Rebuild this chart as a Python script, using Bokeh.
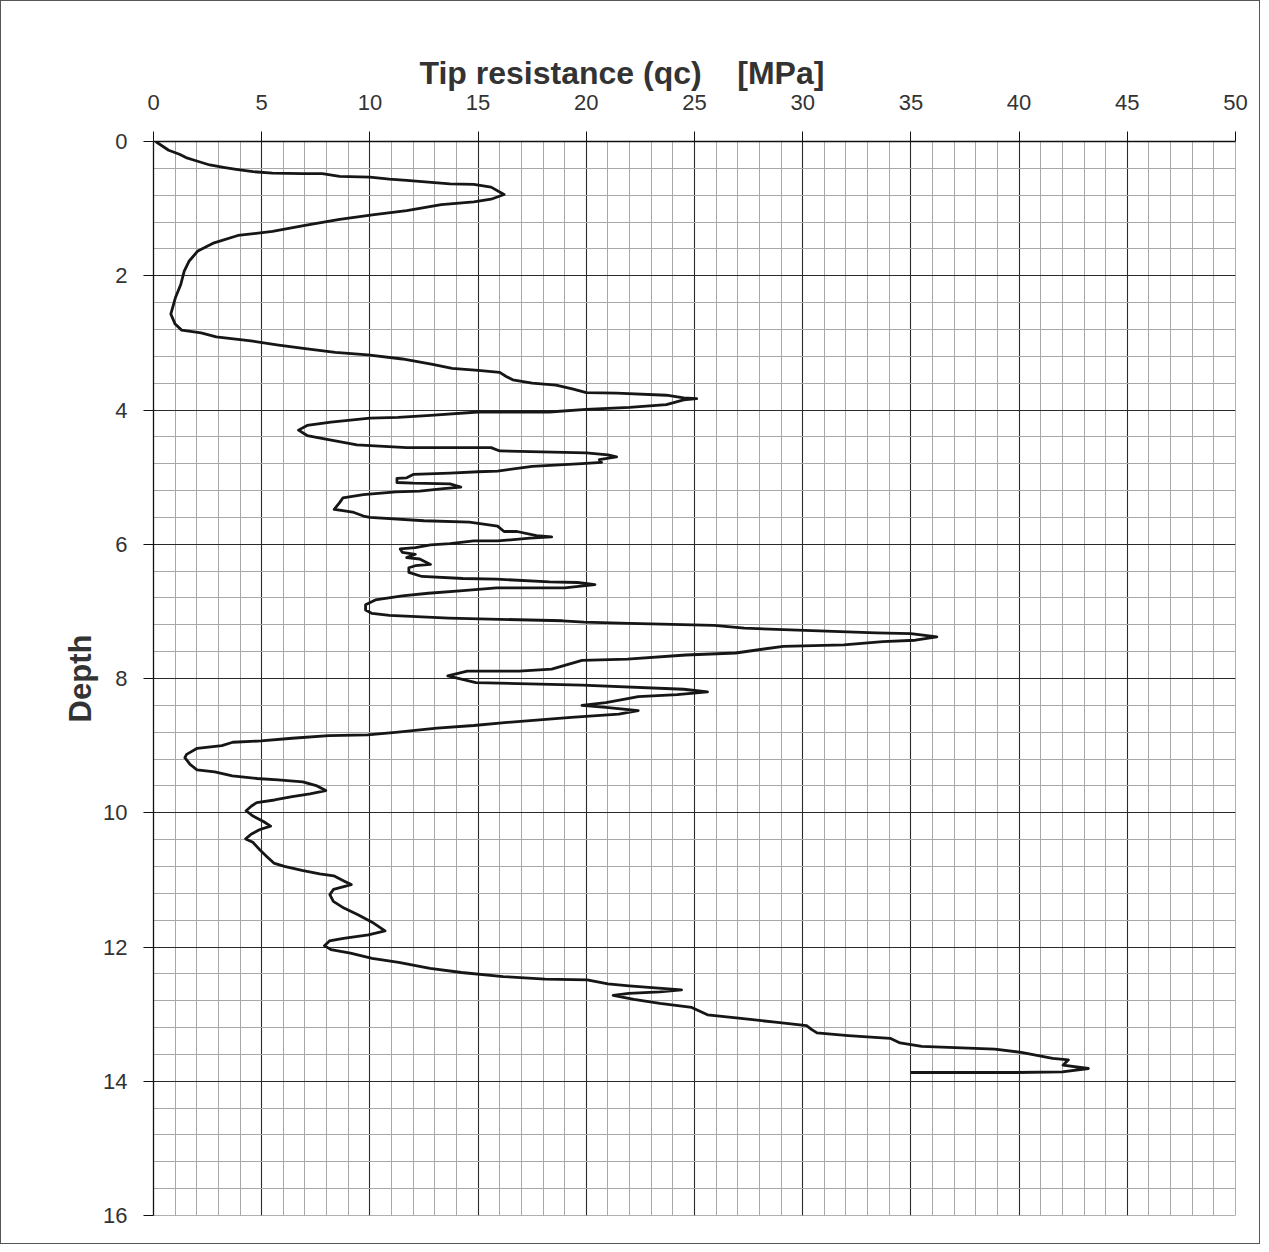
from bokeh.plotting import figure
from bokeh.models import SingleIntervalTicker, Title
from bokeh.embed import file_html
from bokeh.resources import INLINE

depth = [0.00, 0.13, 0.19, 0.24, 0.29, 0.35, 0.39, 0.42, 0.45, 0.47, 0.48, 0.48, 0.52, 0.53, 0.56, 0.58,
         0.63, 0.64, 0.68, 0.79, 0.86, 0.90, 0.94, 1.03, 1.09, 1.16, 1.25, 1.34, 1.40, 1.51, 1.63, 1.78,
         1.93, 2.13, 2.32, 2.57, 2.72, 2.81, 2.85, 2.91, 2.97, 3.03, 3.09, 3.14, 3.18, 3.24, 3.32, 3.38,
         3.41, 3.44, 3.50, 3.55, 3.60, 3.63, 3.69, 3.74, 3.75, 3.78, 3.82, 3.83, 3.85, 3.92, 3.96, 3.99,
         4.03, 4.03, 4.08, 4.11, 4.12, 4.18, 4.23, 4.30, 4.38, 4.43, 4.52, 4.56, 4.56, 4.61, 4.64, 4.67,
         4.70, 4.74, 4.78, 4.80, 4.84, 4.91, 4.92, 4.94, 4.96, 5.01, 5.02, 5.08, 5.09, 5.10, 5.15, 5.17,
         5.21, 5.22, 5.26, 5.31, 5.38, 5.48, 5.50, 5.52, 5.58, 5.60, 5.65, 5.67, 5.73, 5.81, 5.81, 5.87,
         5.89, 5.91, 5.95, 5.95, 5.99, 6.01, 6.05, 6.07, 6.12, 6.15, 6.20, 6.22, 6.30, 6.32, 6.35, 6.42,
         6.48, 6.51, 6.52, 6.56, 6.57, 6.60, 6.65, 6.65, 6.65, 6.69, 6.73, 6.77, 6.83, 6.90, 6.98, 7.03,
         7.06, 7.10, 7.14, 7.16, 7.18, 7.21, 7.25, 7.32, 7.33, 7.38, 7.43, 7.45, 7.50, 7.52, 7.62, 7.65,
         7.71, 7.73, 7.86, 7.89, 7.89, 7.96, 8.06, 8.10, 8.16, 8.20, 8.24, 8.27, 8.32, 8.36, 8.40, 8.43,
         8.48, 8.53, 8.58, 8.62, 8.66, 8.70, 8.74, 8.80, 8.84, 8.85, 8.89, 8.93, 8.95, 9.00, 9.04, 9.13,
         9.18, 9.28, 9.36, 9.39, 9.45, 9.49, 9.51, 9.54, 9.60, 9.67, 9.72, 9.76, 9.81, 9.85, 9.90, 9.97,
         10.05, 10.13, 10.20, 10.25, 10.32, 10.39, 10.44, 10.55, 10.65, 10.75, 10.80, 10.86, 10.91, 10.94,
         11.02, 11.07, 11.14, 11.22, 11.32, 11.42, 11.52, 11.63, 11.76, 11.82, 11.87, 11.91, 11.98, 12.04,
         12.09, 12.17, 12.23, 12.32, 12.38, 12.44, 12.48, 12.49, 12.55, 12.58, 12.64, 12.67, 12.69, 12.72,
         12.78, 12.84, 12.90, 13.01, 13.06, 13.12, 13.17, 13.23, 13.28, 13.32, 13.36, 13.43, 13.48, 13.52,
         13.57, 13.66, 13.68, 13.76, 13.81, 13.86, 13.87, 13.87]
qc = [0.1, 0.7, 1.2, 1.5, 2.0, 2.6, 3.3, 3.9, 4.6, 5.5, 6.9, 7.8, 8.6, 10.0, 10.9, 11.7,
      13.7, 14.8, 15.6, 16.2, 15.6, 14.8, 13.3, 11.7, 10.2, 8.6, 7.0, 5.5, 3.9, 2.8, 2.05, 1.65,
      1.42, 1.26, 1.02, 0.8, 1.0, 1.3, 2.2, 2.9, 4.5, 5.7, 7.1, 8.4, 9.9, 11.5, 12.9, 13.8,
      15.0, 16.0, 16.3, 16.6, 17.5, 18.6, 19.4, 20.0, 21.4, 23.7, 24.5, 25.1, 24.5, 23.7, 22.0, 20.0,
      18.3, 15.0, 12.8, 11.3, 10.0, 8.2, 7.1, 6.7, 7.1, 7.9, 9.4, 11.7, 15.6, 16.0, 20.0, 21.0,
      21.4, 20.6, 20.7, 19.8, 17.5, 15.9, 15.0, 13.7, 12.0, 11.7, 11.25, 11.25, 12.0, 13.7, 14.2, 13.4,
      12.3, 11.2, 9.7, 8.75, 8.6, 8.35, 8.75, 9.2, 9.7, 10.0, 12.5, 14.6, 15.9, 16.2, 16.8, 17.7,
      18.4, 17.4, 15.9, 14.8, 13.7, 12.8, 12.1, 11.4, 11.5, 12.1, 11.7, 12.3, 12.8, 12.1, 11.8, 11.8,
      12.4, 14.3, 15.85, 18.3, 19.6, 20.4, 19.0, 17.4, 15.85, 14.3, 12.7, 11.5, 10.25, 9.8, 9.8, 10.1,
      10.9, 13.65, 18.9, 19.9, 22.0, 25.9, 27.3, 33.4, 35.0, 36.2, 35.2, 33.7, 31.9, 29.1, 26.9, 24.6,
      21.9, 19.8, 18.4, 16.9, 14.5, 13.6, 14.9, 19.8, 24.5, 25.6, 24.2, 22.4, 21.6, 20.9, 19.8, 20.9,
      22.4, 21.5, 19.3, 17.7, 16.1, 14.8, 13.1, 11.3, 9.9, 8.1, 6.4, 4.97, 3.66, 3.16, 2.02, 1.53,
      1.45, 1.69, 2.01, 2.83, 3.64, 4.78, 5.76, 6.9, 7.56, 7.96, 7.23, 6.41, 5.59, 4.77, 4.53, 4.28,
      4.6, 5.08, 5.41, 4.92, 4.51, 4.26, 4.59, 4.91, 5.23, 5.56, 6.05, 6.86, 7.68, 8.33,
      8.82, 9.14, 8.32, 8.15, 8.31, 8.8, 9.45, 10.1, 10.7, 9.93, 8.78, 8.13, 7.9, 8.2,
      9.1, 10.1, 11.33, 12.78, 14.23, 16.16, 18.1, 20.04, 21.0, 21.97, 24.4, 23.4, 21.96, 21.24,
      22.2, 23.4, 24.87, 25.6, 27.04, 28.73, 30.18, 30.42, 30.66, 32.1, 34.04, 34.5, 35.5, 38.88,
      40.1, 41.55, 42.28, 42.03, 43.2, 42.0, 39.85, 35.0]

x_title = "Tip resistance (qc)\u00a0\u00a0\u00a0\u00a0[MPa]"
y_title = "Depth"
x_major_step = 5
y_major_step = 2

FONT = "Liberation Sans"

p = figure(width=1260, height=1244, x_range=(0, 50), y_range=(16, 0),
           x_axis_location="above", output_backend="svg", toolbar_location=None,
           min_border_left=152, min_border_right=26, min_border_top=140, min_border_bottom=30)
p.styles = {"border": "1px solid #555"}
p.background_fill_color = "white"
p.border_fill_color = "white"
p.outline_line_color = "#b0b0b0"

xt = SingleIntervalTicker(interval=x_major_step, num_minor_ticks=5)
yt = SingleIntervalTicker(interval=y_major_step, num_minor_ticks=5)
p.xaxis.ticker = xt
p.yaxis.ticker = yt
p.xgrid.ticker = xt
p.ygrid.ticker = yt

for g in (p.xgrid, p.ygrid):
    g.grid_line_color = "#2a2a2a"
    g.grid_line_width = 1.1
    g.minor_grid_line_color = "#a8a8a8"
    g.minor_grid_line_width = 1

for ax in (p.xaxis, p.yaxis):
    ax.axis_line_color = "#111111"
    ax.axis_line_width = 1.3
    ax.major_tick_line_color = "#111111"
    ax.major_tick_out = 10
    ax.major_tick_in = 0
    ax.minor_tick_line_color = None
    ax.major_label_text_font = FONT
    ax.major_label_text_font_size = "22px"
    ax.major_label_text_color = "#333333"

p.xaxis.major_label_standoff = 22
p.yaxis.major_label_standoff = 16

p.yaxis.axis_label = y_title
p.yaxis.axis_label_text_font = FONT
p.yaxis.axis_label_text_font_style = "bold"
p.yaxis.axis_label_text_font_size = "31px"
p.yaxis.axis_label_text_color = "#333333"
p.yaxis.axis_label_standoff = 2

p.line(qc, depth, line_color="#161616", line_width=2.8, line_join="round")

p.add_layout(Title(text=x_title, align="left", offset=266, text_font=FONT,
                   text_font_style="bold", text_font_size="32px", text_color="#333333",
                   standoff=2), "above")

open("out.html", "w").write(file_html(p, INLINE))
